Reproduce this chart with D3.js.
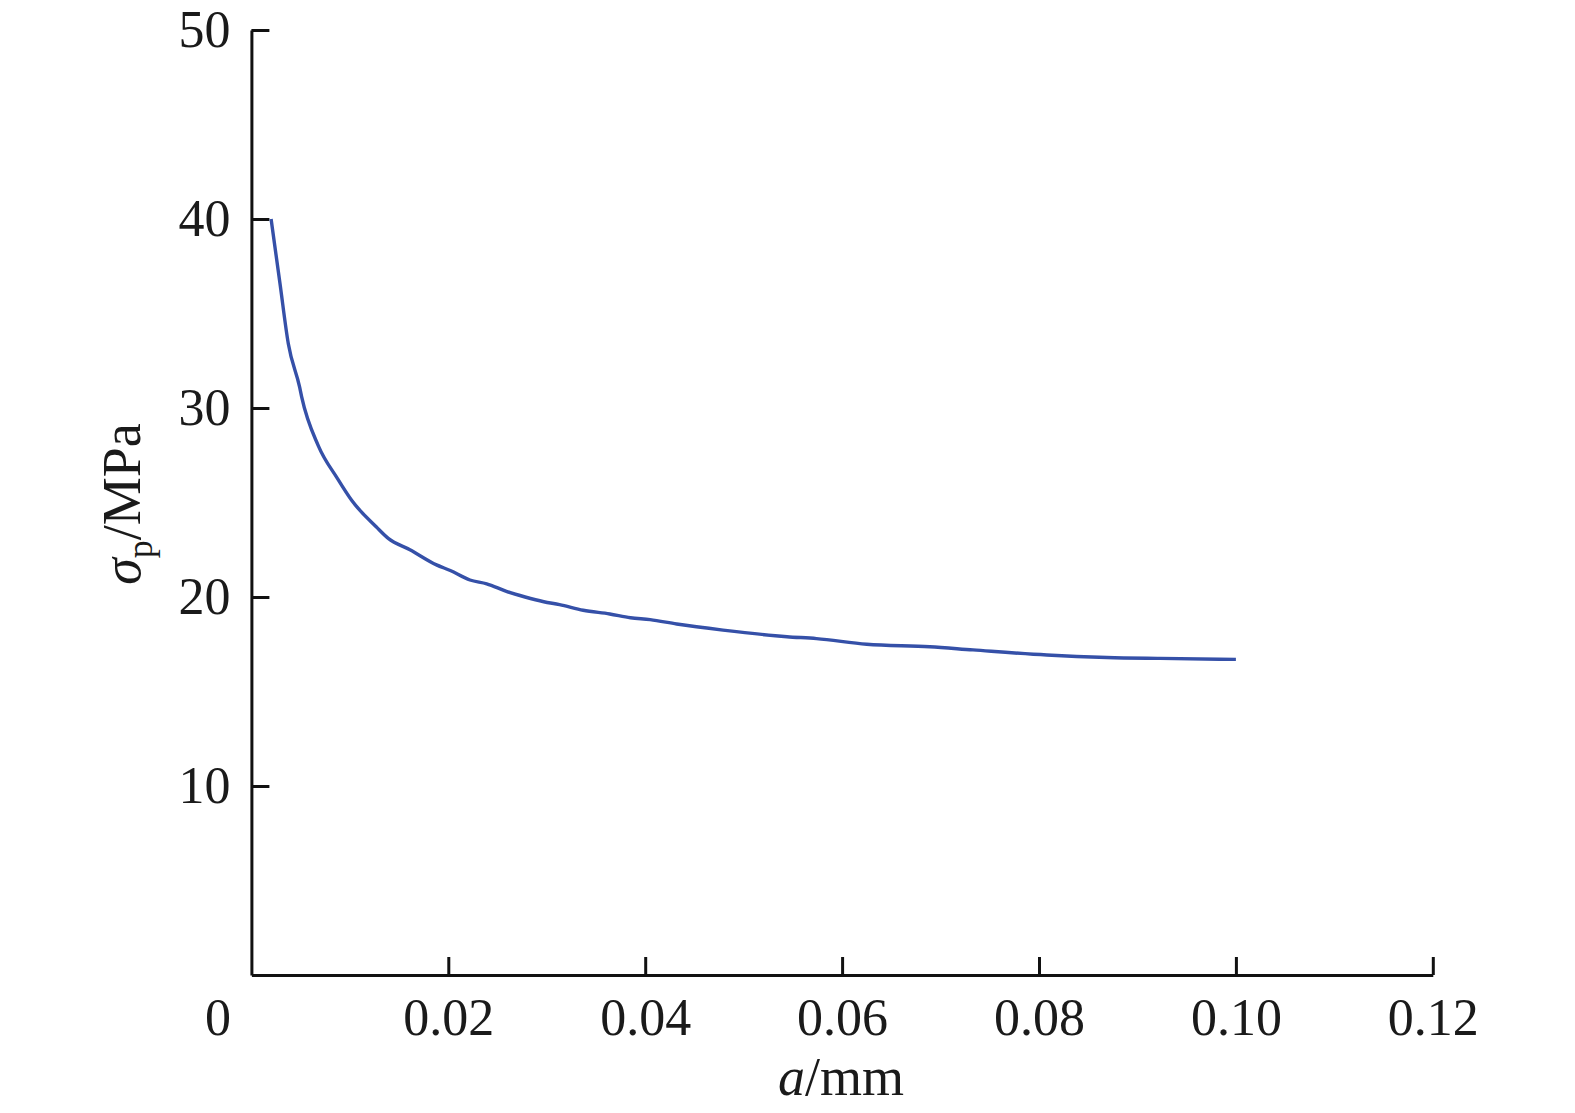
<!DOCTYPE html>
<html>
<head>
<meta charset="utf-8">
<script src="https://cdn.jsdelivr.net/npm/d3@7"></script>
<style>
html,body{margin:0;padding:0;background:#fff;}
svg{display:block;}
text{font-family:"Liberation Serif","Times New Roman",serif;fill:#1a1a1a;}
</style>
</head>
<body>
<svg id="chart" width="1575" height="1113"></svg>
<script>
const crackLength = [0.0020,0.0029,0.00375,0.0049,0.0051,0.0068,0.0087,0.0102,0.0127,0.0139,0.0161,0.0188,0.0202,0.0222,0.0239,0.0259,0.0278,0.0297,0.0313,0.0337,0.0364,0.0385,0.0405,0.0432,0.0479,0.0544,0.0574,0.0625,0.0689,0.0733,0.0808,0.0869,0.0923,0.1000];
const stress      = [40.0,36.6,33.4,31.1,30.6,28.0,26.3,25.1,23.7,23.1,22.5,21.7,21.4,20.9,20.7,20.3,20.0,19.75,19.6,19.3,19.1,18.9,18.8,18.57,18.25,17.9,17.8,17.5,17.37,17.2,16.93,16.8,16.75,16.7];
const xTicks = [0.02,0.04,0.06,0.08,0.10,0.12];
const yTicks = [10,20,30,40,50];

const svg = d3.select("#chart");
const x0 = 251.4, x1 = 1432.8, yTop = 30, yBot = 975;
const x = d3.scaleLinear().domain([0,0.12]).range([x0,x1]);
const y = d3.scaleLinear().domain([0,50]).range([yBot,yTop]);

const xAxis = svg.append("g").attr("transform",`translate(0,${yBot})`)
  .call(d3.axisBottom(x).tickValues(xTicks).tickSizeInner(-18).tickSizeOuter(0).tickFormat(d3.format(".2f")));
const yAxis = svg.append("g").attr("transform",`translate(${x0},0)`)
  .call(d3.axisLeft(y).tickValues(yTicks).tickSizeInner(-18).tickSizeOuter(0).tickFormat(d3.format("d")));

[xAxis,yAxis].forEach(g=>{
  g.selectAll("path.domain").attr("stroke","#111").attr("stroke-width",3);
  g.selectAll(".tick line").attr("stroke","#111").attr("stroke-width",3);
  g.selectAll(".tick text").style("font-size","52px").attr("fill","#1a1a1a")
   .style("font-family","'Liberation Serif','Times New Roman',serif");
});
xAxis.selectAll(".tick text").attr("y",60).attr("dy",0);
yAxis.selectAll(".tick text").attr("x",-21).attr("dy","0.31em");

// origin label
svg.append("text").attr("x",218).attr("y",yBot+60).attr("text-anchor","middle")
  .style("font-size","52px").text("0");

// line
const line = d3.line().x((d,i)=>x(crackLength[i])).y((d,i)=>y(stress[i])).curve(d3.curveMonotoneX);
svg.append("path").datum(stress).attr("d",line).attr("fill","none")
  .attr("stroke","#3550a8").attr("stroke-width",3.4).attr("stroke-linejoin","round");

// x title
const xt = svg.append("text").attr("x",841).attr("y",1095).attr("text-anchor","middle").style("font-size","54px");
xt.append("tspan").style("font-style","italic").text("a");
xt.append("tspan").text("/mm");

// y title
const yt = svg.append("text").attr("transform","translate(140,504) rotate(-90)")
  .attr("text-anchor","middle").style("font-size","54px");
yt.append("tspan").style("font-style","italic").text("σ");
yt.append("tspan").attr("dy",12).style("font-size","36px").text("p");
yt.append("tspan").attr("dy",-12).text("/MPa");
</script>
</body>
</html>
